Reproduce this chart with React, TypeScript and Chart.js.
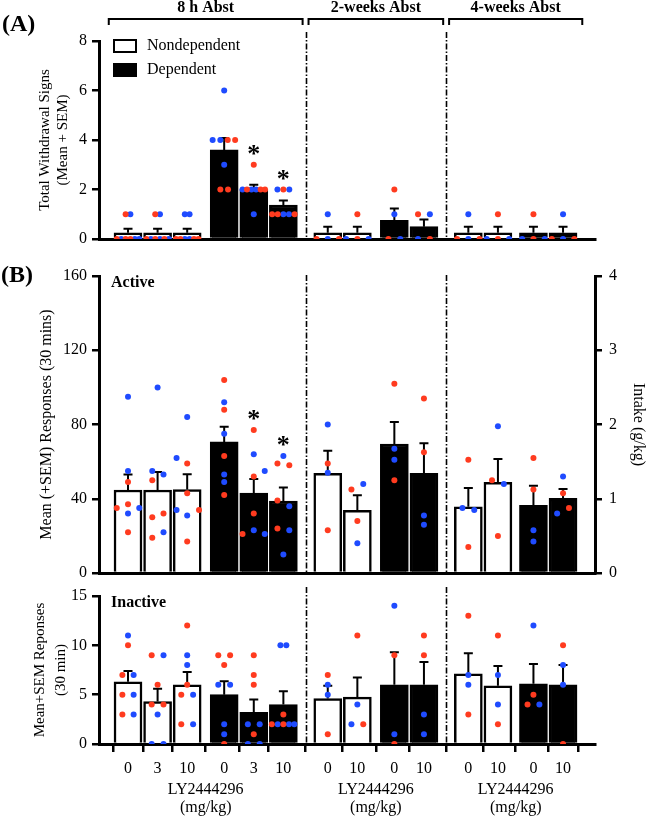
import React, { useEffect, useRef } from 'react';
import { Chart, registerables } from 'chart.js';

Chart.register(...registerables);

// ---------------- data ----------------
const GROUPS = ['8 h Abst', '2-weeks Abst', '4-weeks Abst'];
const GROUP_OF_BAR = [0, 0, 0, 0, 0, 0, 1, 1, 1, 1, 2, 2, 2, 2];
const DOSES = ['0', '3', '10', '0', '3', '10', '0', '10', '0', '10', '0', '10', '0', '10'];
const DEPENDENT = [false, false, false, true, true, true, false, false, true, true, false, false, true, true];
const SERIES_LABELS = ['Nondependent', 'Dependent'];
const X_TITLE = ['LY2444296', '(mg/kg)'];

// (A) total withdrawal signs
const SIGNS_MEAN = [0.25, 0.25, 0.25, 3.6, 2.0, 1.375, 0.25, 0.25, 0.75, 0.5, 0.25, 0.25, 0.25, 0.25];
const SIGNS_SEM = [0.16, 0.16, 0.16, 0.48, 0.19, 0.18, 0.25, 0.25, 0.48, 0.29, 0.25, 0.25, 0.25, 0.25];
const SIGNS_DOTS = [
  [1, 1, 0, 0, 0, 0, 0, 0], [1, 1, 0, 0, 0, 0, 0, 0], [1, 1, 0, 0, 0, 0, 0, 0],
  [6, 4, 4, 4, 4, 3, 2, 2], [3, 2, 2, 2, 2, 2, 2, 1], [2, 2, 2, 1, 1, 1, 1, 1],
  [1, 0, 0, 0], [1, 0, 0, 0], [2, 1, 0, 0], [1, 1, 0, 0],
  [1, 0, 0, 0], [1, 0, 0, 0], [1, 0, 0, 0], [1, 0, 0, 0],
];
const SIGNS_SEX = ['rbrbrrbb', 'rbrbrbrb', 'bbrrbbrr', 'bbbrrbrr', 'rbrbbrrb', 'brbrrbbr',
  'brbr', 'rbrb', 'rbrb', 'rbbr', 'brbr', 'rbrb', 'rbrb', 'brbr'];
const SIGNS_SIG = [4, 5];

// (B) active lever
const ACTIVE_MEAN = [44.7, 44.7, 45.0, 70.6, 43.0, 38.8, 53.7, 33.8, 69.5, 53.7, 35.7, 48.9, 36.5, 40.2];
const ACTIVE_SEM = [8.3, 9.7, 8.2, 8.2, 7.7, 7.2, 12.2, 8.1, 11.9, 16.2, 10.1, 12.5, 10.5, 5.1];
const ACTIVE_DOTS = [
  [95, 55, 49, 37, 35, 35, 32, 22], [100, 55, 53, 50, 32, 30, 22, 19], [84, 62, 59, 43, 34, 34, 31, 17],
  [104, 92, 88, 75, 63, 53, 49, 42], [77, 64, 55, 52, 32, 23, 21, 21], [63, 59, 58, 39, 36, 24, 23, 10],
  [80, 59, 54, 23], [48, 45, 28, 16], [102, 67, 61, 50], [94, 65, 31, 26],
  [61, 35, 34, 14], [79, 50, 48, 20], [62, 45, 23, 17], [52, 43, 35, 32],
];
const ACTIVE_SEX = ['bbrrrbbr', 'bbbrrrbr', 'bbrrbrbr', 'rbrbrbbr', 'rbbrrbrb', 'brrrbrbb',
  'brbr', 'brrb', 'rbbr', 'rrbb', 'rbbr', 'brbr', 'rrbb', 'brrb'];
const ACTIVE_SIG = [4, 5];

// (B) inactive lever
const INACTIVE_MEAN = [6.3, 4.3, 6.0, 5.0, 3.2, 4.0, 4.6, 4.75, 6.0, 6.0, 7.1, 5.9, 6.1, 6.0];
const INACTIVE_SEM = [1.1, 1.3, 1.3, 1.35, 1.3, 1.35, 1.3, 2.0, 3.3, 2.3, 2.1, 2.0, 2.0, 2.0];
const INACTIVE_DOTS = [
  [11, 10, 7, 7, 5, 5, 3, 3], [9, 9, 6, 4, 4, 3, 0, 0], [12, 9, 8, 6, 5, 5, 2, 2],
  [9, 9, 8, 6, 6, 2, 1, 0], [9, 7, 6, 2, 2, 1, 0, 0], [10, 10, 3, 2, 2, 2, 2, 2],
  [7, 6, 5, 1], [11, 4, 2, 2], [14, 9, 1, 0], [11, 9, 3, 1],
  [13, 7, 6, 3], [11, 7, 4, 2], [12, 5, 4, 4], [10, 8, 6, 0],
];
const INACTIVE_SEX = ['brrbrbrb', 'rbrrrbbb', 'rbbrrbrb', 'rrrbbbbr', 'rrrbbrbb', 'bbrrbrbb',
  'rbbr', 'rbbr', 'brbr', 'rrbb', 'rbbr', 'rbbr', 'brrb', 'rbbr'];

// ---------------- layout (positions / styles) ----------------
const BAR_POS = [0, 1, 2, 3.25, 4.25, 5.25, 6.75, 7.75, 9, 10, 11.5, 12.5, 13.7, 14.7];
const X_MIN = -0.98;
const X_MAX = 15.78;
const BRACKET_MARGIN = 0.65;
const ROW8 = [-0.08, 0.08, -0.38, -0.23, -0.08, 0.08, 0.23, 0.38];
const ROW3 = [0, -0.38, 0, 0.38];
const Z4 = [0, 0, 0, 0];
const Z8 = [0, 0, 0, 0, 0, 0, 0, 0];
const SIGNS_JITTER = [
  ROW8, ROW8, ROW8,
  [0, -0.39, -0.13, 0.12, 0.37, 0, -0.13, 0.13],
  [0, -0.38, -0.23, -0.08, 0.08, 0.23, 0.38, 0],
  [-0.2, 0, 0.2, -0.38, -0.19, 0, 0.19, 0.38],
  ROW3, ROW3, [0, 0, -0.2, 0.2], [-0.2, 0.2, -0.2, 0.2],
  ROW3, ROW3, ROW3, ROW3,
];
const ACTIVE_JITTER = [
  [0, 0, 0, 0, -0.38, 0.38, 0, 0],
  [0, -0.18, 0.2, -0.18, 0.2, -0.18, 0.2, -0.18],
  [0, -0.36, 0, 0, -0.36, 0.4, 0, 0],
  Z8,
  [0, 0, 0.37, 0, 0, 0, -0.38, 0.37],
  [0, -0.2, 0.2, -0.2, 0.2, -0.2, 0.2, 0],
  Z4, [0.2, -0.2, 0, 0], Z4, Z4,
  [0, -0.2, 0.2, 0], [0, -0.2, 0.2, 0], Z4, [0, 0, 0.2, -0.2],
];
const INACTIVE_JITTER = [
  [0, 0, -0.19, 0.19, -0.19, 0.19, -0.19, 0.19],
  [-0.2, 0.2, 0, -0.2, 0.2, 0, -0.2, 0.2],
  [0, 0, 0, 0, -0.2, 0.2, -0.2, 0.2],
  [-0.2, 0.2, 0, -0.2, 0.2, 0, 0, 0],
  [0, 0, 0, -0.2, 0.2, 0, -0.2, 0.2],
  [-0.1, 0.1, 0, -0.39, -0.19, 0, 0.19, 0.37],
  Z4, [0, 0, -0.2, 0.2], Z4, Z4,
  Z4, Z4, [0, 0, -0.2, 0.2], Z4,
];

const FONT = "'Liberation Serif', 'Times New Roman', serif";
const RED = '#FF3B1F';
const BLUE = '#1F4BFF';
const W = 646;

type Spec = {
  top: number; height: number;
  mean: number[]; sem: number[]; dots: number[][]; sex: string[]; jitter: number[][]; sig: number[];
  yMax: number; yStep: number;
  yTitle: string | string[]; yTitleSize: number; yTitleLH: number; yTitleLeft: number;
  padTop: number; xHeight: number; showXTicks: boolean; rightAxis: boolean;
  dashAbove: number;
  overlay: (ctx: CanvasRenderingContext2D, chart: any) => void;
};

function groupBars(g: number) {
  return BAR_POS.map((_, i) => i).filter((i) => GROUP_OF_BAR[i] === g);
}

function drawAsterisks(ctx: CanvasRenderingContext2D, chart: any, s: Spec) {
  const { x, y } = chart.scales;
  ctx.save();
  ctx.fillStyle = '#000';
  ctx.font = `bold 26px ${FONT}`;
  ctx.textAlign = 'center';
  ctx.textBaseline = 'alphabetic';
  s.sig.forEach((i) => {
    const cx = x.getPixelForValue(BAR_POS[i]);
    const cy = y.getPixelForValue(Math.max(...s.dots[i])) - 16;
    ctx.fillText('*', cx, cy + 13);
  });
  ctx.restore();
}

function buildConfig(s: Spec): any {
  const idx = BAR_POS.map((_, i) => i);
  const barData = (dep: boolean) =>
    idx.filter((i) => DEPENDENT[i] === dep).map((i) => ({ x: BAR_POS[i], y: s.mean[i] }));
  const dotData = (code: string) => {
    const out: { x: number; y: number }[] = [];
    s.dots.forEach((vals, i) =>
      vals.forEach((v, j) => {
        if (s.sex[i][j] === code) out.push({ x: BAR_POS[i] + s.jitter[i][j], y: v });
      })
    );
    return out;
  };

  const errorBars = {
    id: 'errorBars',
    beforeDatasetsDraw(chart: any) {
      const { ctx } = chart;
      const { x, y } = chart.scales;
      ctx.save();
      ctx.strokeStyle = '#000';
      ctx.lineWidth = 2;
      s.mean.forEach((m, i) => {
        const px = x.getPixelForValue(BAR_POS[i]);
        const y0 = y.getPixelForValue(m);
        const y1 = y.getPixelForValue(m + s.sem[i]);
        ctx.beginPath();
        ctx.moveTo(px, y0);
        ctx.lineTo(px, y1);
        ctx.moveTo(px - 4.5, y1);
        ctx.lineTo(px + 4.5, y1);
        ctx.stroke();
      });
      ctx.restore();
    },
  };

  const overlay = {
    id: 'overlay',
    afterDraw(chart: any) {
      const { ctx, chartArea } = chart;
      const { x } = chart.scales;
      // dash-dot separators between abstinence groups
      ctx.save();
      ctx.strokeStyle = '#000';
      ctx.lineWidth = 1.6;
      ctx.setLineDash([6, 2, 1.5, 2]);
      for (let g = 0; g < GROUPS.length - 1; g++) {
        const a = groupBars(g);
        const b = groupBars(g + 1);
        const px = Math.round(x.getPixelForValue((BAR_POS[a[a.length - 1]] + BAR_POS[b[0]]) / 2)) + 0.5;
        ctx.beginPath();
        ctx.moveTo(px, chartArea.top - s.dashAbove);
        ctx.lineTo(px, chartArea.bottom);
        ctx.stroke();
      }
      ctx.restore();
      drawAsterisks(ctx, chart, s);
      s.overlay(ctx, chart);
    },
  };

  const tickFont = { family: FONT, size: 16 };
  const axisGrid = { drawOnChartArea: false, tickLength: 7, lineWidth: 2.5, color: '#000' };
  const axisBorder = { display: true, width: 3, color: '#000' };

  const scales: any = {
    x: {
      type: 'linear',
      min: X_MIN,
      max: X_MAX,
      offset: false,
      grid: { display: s.showXTicks, drawOnChartArea: false, drawTicks: s.showXTicks, tickLength: 8, lineWidth: 2.5, color: '#000' },
      border: axisBorder,
      ticks: {
        display: s.showXTicks,
        autoSkip: false,
        maxRotation: 0,
        padding: 7,
        font: tickFont,
        color: '#000',
        callback: (_v: any, i: number) => DOSES[i],
      },
      afterBuildTicks: (axis: any) => {
        axis.ticks = BAR_POS.map((v) => ({ value: v }));
      },
      afterFit: (axis: any) => {
        axis.height = s.xHeight;
      },
    },
    y: {
      type: 'linear',
      position: 'left',
      min: 0,
      max: s.yMax,
      ticks: { stepSize: s.yStep, font: tickFont, color: '#000', padding: 5 },
      grid: axisGrid,
      border: axisBorder,
      title: {
        display: true,
        text: s.yTitle,
        color: '#000',
        font: { family: FONT, size: s.yTitleSize, lineHeight: s.yTitleLH },
        padding: { top: 4, bottom: 0 },
      },
      afterFit: (axis: any) => {
        axis.width = 99 - s.yTitleLeft;
      },
    },
  };
  if (s.rightAxis) {
    scales.y1 = {
      type: 'linear',
      position: 'right',
      min: 0,
      max: 4,
      ticks: { stepSize: 1, font: tickFont, color: '#000', padding: 7 },
      grid: axisGrid,
      border: axisBorder,
      title: {
        display: true,
        text: 'Intake (g/kg)',
        color: '#000',
        font: { family: FONT, size: 16, lineHeight: 1 },
        padding: 0,
      },
      afterFit: (axis: any) => {
        axis.width = W - 595;
      },
    };
  }

  return {
    type: 'bar',
    data: {
      datasets: [
        { type: 'bar', label: SERIES_LABELS[0], data: barData(false), backgroundColor: '#fff', borderColor: '#000', borderWidth: 2.5, barThickness: 28, grouped: false, order: 2 },
        { type: 'bar', label: SERIES_LABELS[1], data: barData(true), backgroundColor: '#000', borderColor: '#000', borderWidth: 2.5, barThickness: 28, grouped: false, order: 2 },
        { type: 'scatter', label: 'red', data: dotData('r'), pointRadius: 3, pointBackgroundColor: RED, pointBorderWidth: 0, showLine: false, order: 1 },
        { type: 'scatter', label: 'blue', data: dotData('b'), pointRadius: 3, pointBackgroundColor: BLUE, pointBorderWidth: 0, showLine: false, order: 1 },
      ],
    },
    options: {
      responsive: false,
      animation: false,
      events: [],
      layout: {
        autoPadding: false,
        padding: { left: s.yTitleLeft, top: s.padTop, right: s.rightAxis ? 0 : W - 595, bottom: 0 },
      },
      plugins: { legend: { display: false }, tooltip: { enabled: false } },
      scales,
    },
    plugins: [errorBars, overlay],
  };
}

// ---------------- overlays ----------------
function overlaySigns(ctx: CanvasRenderingContext2D, chart: any) {
  const { x } = chart.scales;
  ctx.save();
  ctx.fillStyle = '#000';
  ctx.strokeStyle = '#000';
  // brackets with group names
  GROUPS.forEach((name, g) => {
    const bars = groupBars(g);
    const x0 = x.getPixelForValue(BAR_POS[bars[0]] - BRACKET_MARGIN);
    const x1 = x.getPixelForValue(BAR_POS[bars[bars.length - 1]] + BRACKET_MARGIN);
    ctx.lineWidth = 2;
    ctx.beginPath();
    ctx.moveTo(x0, 25);
    ctx.lineTo(x0, 19);
    ctx.lineTo(x1, 19);
    ctx.lineTo(x1, 25);
    ctx.stroke();
    ctx.font = `bold 16px ${FONT}`;
    ctx.textAlign = 'center';
    ctx.textBaseline = 'middle';
    ctx.fillText(name, (x0 + x1) / 2, 8);
  });
  // panel letter
  ctx.font = `bold 24px ${FONT}`;
  ctx.textAlign = 'left';
  ctx.textBaseline = 'middle';
  ctx.fillText('(A)', 2, 25);
  // legend
  ctx.lineWidth = 2;
  ctx.fillStyle = '#fff';
  ctx.fillRect(114, 40, 22, 12);
  ctx.strokeRect(114, 40, 22, 12);
  ctx.fillStyle = '#000';
  ctx.fillRect(114, 64, 22, 12);
  ctx.strokeRect(114, 64, 22, 12);
  ctx.font = `16px ${FONT}`;
  ctx.fillText(SERIES_LABELS[0], 147, 46);
  ctx.fillText(SERIES_LABELS[1], 147, 70);
  ctx.restore();
}

function overlayActive(ctx: CanvasRenderingContext2D, chart: any) {
  ctx.save();
  ctx.fillStyle = '#000';
  ctx.textAlign = 'left';
  ctx.textBaseline = 'middle';
  ctx.font = `bold 24px ${FONT}`;
  ctx.fillText('(B)', 1, 26);
  ctx.font = `bold 16px ${FONT}`;
  ctx.fillText('Active', 111, 33);
  ctx.restore();
}

function overlayInactive(ctx: CanvasRenderingContext2D, chart: any) {
  const { x } = chart.scales;
  ctx.save();
  ctx.fillStyle = '#000';
  ctx.textAlign = 'left';
  ctx.textBaseline = 'middle';
  ctx.font = `bold 16px ${FONT}`;
  ctx.fillText('Inactive', 111, 23);
  ctx.font = `16px ${FONT}`;
  ctx.textAlign = 'center';
  GROUPS.forEach((_, g) => {
    const bars = groupBars(g);
    const cx = x.getPixelForValue((BAR_POS[bars[0]] + BAR_POS[bars[bars.length - 1]]) / 2);
    ctx.fillText(X_TITLE[0], cx, 210);
    ctx.fillText(X_TITLE[1], cx, 228);
  });
  ctx.restore();
}

const SPECS: Spec[] = [
  {
    top: 0, height: 255,
    mean: SIGNS_MEAN, sem: SIGNS_SEM, dots: SIGNS_DOTS, sex: SIGNS_SEX, jitter: SIGNS_JITTER, sig: SIGNS_SIG,
    yMax: 8, yStep: 2,
    yTitle: ['Total Withdrawal Signs', '(Mean + SEM)'], yTitleSize: 15, yTitleLH: 1.2, yTitleLeft: 32,
    padTop: 41, xHeight: 16, showXTicks: false, rightAxis: false, dashAbove: 9,
    overlay: overlaySigns,
  },
  {
    top: 250, height: 345,
    mean: ACTIVE_MEAN, sem: ACTIVE_SEM, dots: ACTIVE_DOTS, sex: ACTIVE_SEX, jitter: ACTIVE_JITTER, sig: ACTIVE_SIG,
    yMax: 160, yStep: 40,
    yTitle: 'Mean (+SEM) Responses (30 mins)', yTitleSize: 16, yTitleLH: 1.2, yTitleLeft: 33,
    padTop: 26, xHeight: 22, showXTicks: false, rightAxis: true, dashAbove: 1,
    overlay: overlayActive,
  },
  {
    top: 580, height: 237,
    mean: INACTIVE_MEAN, sem: INACTIVE_SEM, dots: INACTIVE_DOTS, sex: INACTIVE_SEX, jitter: INACTIVE_JITTER, sig: [],
    yMax: 15, yStep: 5,
    yTitle: ['Mean+SEM Reponses', '(30 min)'], yTitleSize: 15, yTitleLH: 1.4, yTitleLeft: 26,
    padTop: 16, xHeight: 73, showXTicks: true, rightAxis: false, dashAbove: 9,
    overlay: overlayInactive,
  },
];

function Panel({ spec }: { spec: Spec }) {
  const ref = useRef<HTMLCanvasElement>(null);
  useEffect(() => {
    const chart = new Chart(ref.current as HTMLCanvasElement, buildConfig(spec));
    return () => chart.destroy();
  }, [spec]);
  return (
    <canvas
      ref={ref}
      width={W}
      height={spec.height}
      style={{ position: 'absolute', left: 0, top: spec.top, width: W, height: spec.height }}
    />
  );
}

export default function App() {
  return (
    <div style={{ position: 'absolute', left: 0, top: 0, width: W, height: 817, background: '#fff', overflow: 'hidden' }}>
      {SPECS.map((s, i) => (
        <Panel key={i} spec={s} />
      ))}
    </div>
  );
}
